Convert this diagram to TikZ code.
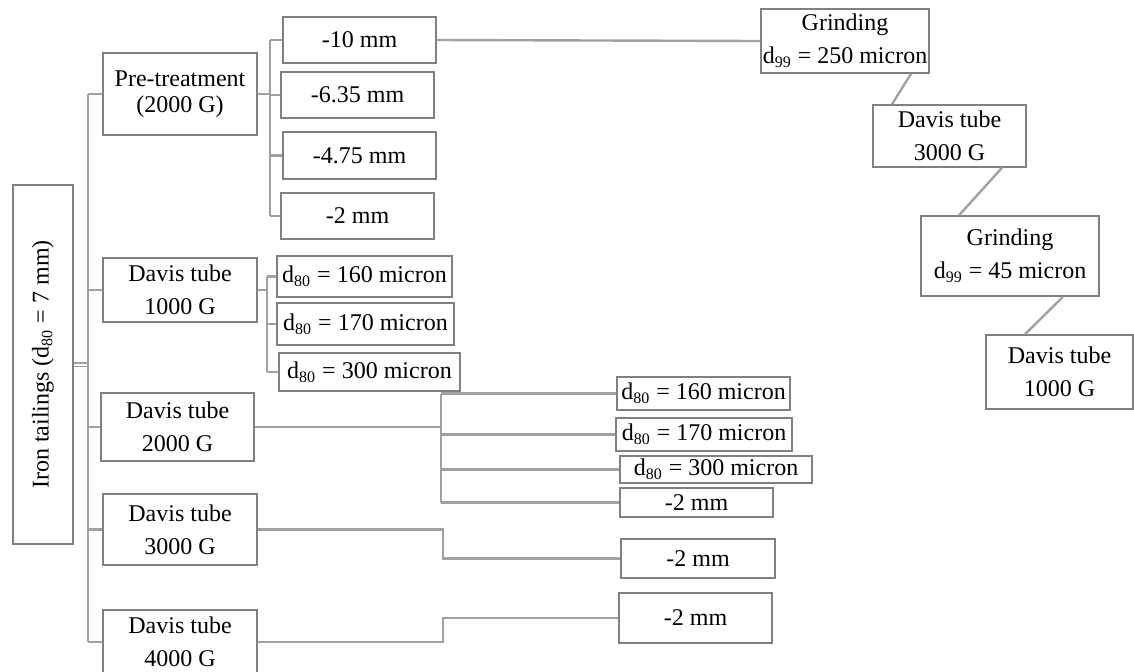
\documentclass[tikz,border=0pt]{standalone}
\usepackage{fontspec}
\setmainfont{Liberation Serif}
\usepackage{graphicx}
\usetikzlibrary{calc}

\begin{document}
\begin{tikzpicture}[
  x=0.5pt, y=-0.5pt,
  every node/.style={font=\fontsize{12}{16.5}\selectfont},
  box/.style={draw=black!50, line width=0.75pt, align=center, inner sep=0pt},
  link/.style={draw=black!37, line width=1.2pt},
  pair/.style={link, line width=0.6pt, double=white, double distance=1pt}
]
\useasboundingbox (0,0) rectangle (1134,671);

% Left: feed
\node[box, minimum width=30pt, minimum height=179.5pt] (iron) at (43,364.5)
  {\rotatebox{90}{Iron tailings (d\textsubscript{80} = 7 mm)}};

% First column
\node[box, minimum width=77pt, minimum height=41pt, font=\fontsize{12}{13}\selectfont] (pre) at (180,94)
  {Pre-treatment\\(2000 G)};
\node[box, minimum width=77pt, minimum height=32pt] (dt1) at (180,290)   {Davis tube\\1000 G};
\node[box, minimum width=76.5pt, minimum height=34pt] (dt2) at (177.5,427) {Davis tube\\2000 G};
\node[box, minimum width=77pt, minimum height=35.5pt] (dt3) at (180,529.5) {Davis tube\\3000 G};
\node[box, minimum width=77pt, minimum height=32pt] (dt4) at (180,642)   {Davis tube\\4000 G};

% Pre-treatment sizes
\node[box, minimum width=76.5pt, minimum height=23pt] (m10)  at (359.5,40)    {-10 mm};
\node[box, minimum width=76.5pt, minimum height=23pt] (m635) at (357.5,95)    {-6.35 mm};
\node[box, minimum width=76.5pt, minimum height=23.5pt] (m475) at (359.5,155.5) {-4.75 mm};
\node[box, minimum width=76.5pt, minimum height=23pt] (m2a)  at (357.5,216)   {-2 mm};

% Davis tube 1000 G sizes
\node[box, minimum width=87.5pt, minimum height=20.5pt] (a160) at (364.5,276.5) {d\textsubscript{80} = 160 micron};
\node[box, minimum width=88.5pt, minimum height=21pt] (a170) at (365.5,324)   {d\textsubscript{80} = 170 micron};
\node[box, minimum width=90.5pt, minimum height=19pt] (a300) at (369.5,372)   {d\textsubscript{80} = 300 micron};

% Davis tube 2000 G sizes
\node[box, minimum width=86.5pt, minimum height=16.5pt] (b160) at (703.5,393.5) {d\textsubscript{80} = 160 micron};
\node[box, minimum width=88pt, minimum height=16.5pt] (b170) at (704,434.5)   {d\textsubscript{80} = 170 micron};
\node[box, minimum width=96pt, minimum height=13.5pt] (b300) at (716,469.5)   {d\textsubscript{80} = 300 micron};
\node[box, minimum width=76.5pt, minimum height=14.5pt] (b2) at (696.5,502.5) {-2 mm};

% Davis tube 3000 G / 4000 G sizes
\node[box, minimum width=77pt, minimum height=19.5pt] (c2) at (698,558.5)   {-2 mm};
\node[box, minimum width=76.5pt, minimum height=25pt] (d2) at (695.5,618)   {-2 mm};

% Right: grinding chain
\node[box, minimum width=84pt, minimum height=32pt] (grind1) at (845,41)   {Grinding\\d\textsubscript{99} = 250 micron};
\node[box, minimum width=76.5pt, minimum height=31pt] (dt3r) at (949.5,136) {Davis tube\\3000 G};
\node[box, minimum width=89pt, minimum height=40pt] (grind2) at (1010,256)  {Grinding\\d\textsubscript{99} = 45 micron};
\node[box, minimum width=73.5pt, minimum height=37pt] (dt1r) at (1059.5,372) {Davis tube\\1000 G};

% Trunk positions
\coordinate (trunk) at (88,0);
\coordinate (pretrunk) at (270,0);
\coordinate (atrunk) at (267,0);
\coordinate (btrunk) at (441,0);
\coordinate (jog) at (443,0);

% Feed -> first column
\draw[pair] (iron.east) -- (iron.east -| trunk);
\draw[link] (pre.west -| trunk) -- (dt4.west -| trunk);
\foreach \n in {pre,dt1,dt2,dt3,dt4}
  \draw[link] (\n.west) -- (\n.west -| trunk);

% Pre-treatment -> sizes
\draw[link] (pre.east) -- (pre.east -| pretrunk);
\draw[link] (m10.west -| pretrunk) -- (m2a.west -| pretrunk);
\foreach \n in {m10,m635,m475,m2a}
  \draw[link] (\n.west) -- (\n.west -| pretrunk);

% Davis tube 1000 G -> sizes
\draw[link] (dt1.east) -- (dt1.east -| atrunk);
\draw[link] (a160.west -| atrunk) -- (a300.west -| atrunk);
\foreach \n in {a160,a170,a300}
  \draw[link] (\n.west) -- (\n.west -| atrunk);

% Davis tube 2000 G -> sizes
\draw[link] (dt2.east) -- (dt2.east -| btrunk);
\draw[link] (b160.west -| btrunk) -- (b2.west -| btrunk);
\foreach \n in {b160,b170,b300,b2}
  \draw[link] (\n.west) -- (\n.west -| btrunk);

% Davis tube 3000 G / 4000 G -> -2 mm
\draw[link] (dt3.east) -- (dt3.east -| jog) |- (c2.west);
\draw[link] (dt4.east) -- (dt4.east -| jog) |- (d2.west);

% -10 mm -> grinding chain
\draw[link] (m10.east) -- (grind1.west);
\draw[link] ([xshift=33pt]grind1.south) -- ([xshift=-28.75pt]dt3r.north);
\draw[link] ([xshift=26.25pt]dt3r.south) -- ([xshift=-25.5pt]grind2.north);
\draw[link] ([xshift=26.5pt]grind2.south) -- ([xshift=-17.25pt]dt1r.north);

\end{tikzpicture}
\end{document}
